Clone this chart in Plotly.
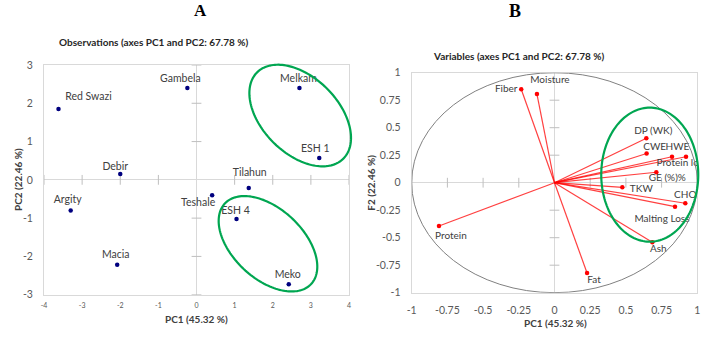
import numpy as np
import plotly.graph_objects as go

# ---------------- data ----------------
obs_names = ["Red Swazi", "Gambela", "Melkam", "ESH 1", "Debir", "Tilahun",
             "Teshale", "ESH 4", "Argity", "Macia", "Meko"]
obs_pc1 = [-3.62, -0.24, 2.70, 3.22, -2.00, 1.37, 0.41, 1.05, -3.30, -2.08, 2.42]
obs_pc2 = [1.85, 2.40, 2.40, 0.57, 0.15, -0.21, -0.40, -1.02, -0.80, -2.22, -2.73]

var_names = ["Fiber", "Moisture", "DP (WK)", "CWE", "HWE", "Protein loss",
             "GE (%)%", "TKW", "CHO", "Malting Loss", "Ash", "Fat", "Protein"]
var_pc1 = [-0.233, -0.123, 0.643, 0.645, 0.823, 0.921, 0.713, 0.475, 0.916, 0.844, 0.685, 0.228, -0.809]
var_pc2 = [0.849, 0.806, 0.404, 0.265, 0.236, 0.236, 0.095, -0.042, -0.187, -0.218, -0.542, -0.821, -0.394]

obs_ticks_x = [-4, -3, -2, -1, 0, 1, 2, 3, 4]
obs_ticks_y = [-3, -2, -1, 0, 1, 2, 3]
var_ticks = [-1, -0.75, -0.5, -0.25, 0, 0.25, 0.5, 0.75, 1]
var_tick_text = ["-1", "-0.75", "-0.5", "-0.25", "0", "0.25", "0.5", "0.75", "1"]

# ---------------- styles / layout geometry ----------------
W, H = 703, 344
L_box = (44, 349, 65, 294.7)      # left, right, top, bottom (px)
R_box = (411.7, 697.3, 72.7, 292.7)
L_rng = ((-4, 4), (-3, 3))
R_rng = ((-1, 1), (-1, 1))
L_sx = (L_box[1] - L_box[0]) / 8.0
L_sy = (L_box[3] - L_box[2]) / 6.0
R_sx = (R_box[1] - R_box[0]) / 2.0
R_sy = (R_box[3] - R_box[2]) / 2.0

# label offsets in px (dx right, dy down)
obs_off = {"Red Swazi": (30, -12), "Gambela": (-7, -9), "Melkam": (-1, -9), "ESH 1": (-4, -9),
           "Debir": (-5, -7), "Tilahun": (1, -15), "Teshale": (-14, 8), "ESH 4": (-1, -8),
           "Argity": (-3, -10), "Macia": (-1.5, -9), "Meko": (-1, -9)}
var_off = {"Fiber": (-15, 0), "Moisture": (13, -14), "DP (WK)": (7, -7), "CWE": (8, -6),
           "HWE": (5.5, -9), "Protein loss": (-4, 7), "GE (%)%": (11, 6), "TKW": (19, 2),
           "CHO": (0, -7.6), "Malting Loss": (-13, 13), "Ash": (6, 7.5), "Fat": (7, 8),
           "Protein": (12, 10)}

FONT = "Lato"
GREEN = "#00a651"
AX_GREY = "#d9d9d9"
TICK_GREY = "#595959"


def dom_x(box):
    return [box[0] / W, box[1] / W]


def dom_y(box):
    return [1 - box[3] / H, 1 - box[2] / H]


def ellipse_path(cx, cy, a_px, b_px, ang_deg, box, rng, sx, sy, n=160):
    """Rotated ellipse (sizes in px) centred at data point (cx, cy); returned in paper coords."""
    t = np.linspace(0, 2 * np.pi, n)
    th = np.radians(ang_deg)
    ux = a_px * np.cos(t) * np.cos(th) - b_px * np.sin(t) * np.sin(th)
    uy = a_px * np.cos(t) * np.sin(th) + b_px * np.sin(t) * np.cos(th)
    px = box[0] + (cx - rng[0][0]) * sx + ux
    py = box[3] - (cy - rng[1][0]) * sy - uy
    pts = [f"{x / W:.5f},{1 - y / H:.5f}" for x, y in zip(px, py)]
    return "M " + " L ".join(pts) + " Z"


fig = go.Figure()

# ---- left: observations ----
fig.add_trace(go.Scatter(x=[v for v in obs_ticks_x if v != 0], y=[0] * 8, mode="markers",
                         marker=dict(symbol="line-ns", size=7, line=dict(color="#bfbfbf", width=1)),
                         hoverinfo="skip", showlegend=False, xaxis="x", yaxis="y"))
fig.add_trace(go.Scatter(x=[0] * 6, y=[v for v in obs_ticks_y if v != 0], mode="markers",
                         marker=dict(symbol="line-ew", size=7, line=dict(color="#bfbfbf", width=1)),
                         hoverinfo="skip", showlegend=False, xaxis="x", yaxis="y"))
fig.add_trace(go.Scatter(x=obs_pc1, y=obs_pc2, mode="markers",
                         marker=dict(color="#00007f", size=4.5),
                         showlegend=False, xaxis="x", yaxis="y"))
fig.add_trace(go.Scatter(
    x=[x + obs_off[n][0] / L_sx for n, x in zip(obs_names, obs_pc1)],
    y=[y - obs_off[n][1] / L_sy for n, y in zip(obs_names, obs_pc2)],
    text=obs_names, mode="text", textposition="middle center",
    textfont=dict(family=FONT, size=10.5, color="#404040"),
    hoverinfo="skip", showlegend=False, xaxis="x", yaxis="y"))

# ---- right: variables ----
fig.add_trace(go.Scatter(x=[v for v in var_ticks if v != 0], y=[0] * 8, mode="markers",
                         marker=dict(symbol="line-ns", size=7, line=dict(color="#bfbfbf", width=1)),
                         hoverinfo="skip", showlegend=False, xaxis="x2", yaxis="y2"))
fig.add_trace(go.Scatter(x=[0] * 8, y=[v for v in var_ticks if v != 0], mode="markers",
                         marker=dict(symbol="line-ew", size=7, line=dict(color="#bfbfbf", width=1)),
                         hoverinfo="skip", showlegend=False, xaxis="x2", yaxis="y2"))
lx, ly = [], []
for x, y in zip(var_pc1, var_pc2):
    lx += [0, x, None]
    ly += [0, y, None]
fig.add_trace(go.Scatter(x=lx, y=ly, mode="lines",
                         line=dict(color="rgba(255,0,0,0.75)", width=1.2),
                         hoverinfo="skip", showlegend=False, xaxis="x2", yaxis="y2"))
fig.add_trace(go.Scatter(x=var_pc1, y=var_pc2, mode="markers",
                         marker=dict(color="#ff0000", size=4.5),
                         showlegend=False, xaxis="x2", yaxis="y2"))
fig.add_trace(go.Scatter(
    x=[x + var_off[n][0] / R_sx for n, x in zip(var_names, var_pc1)],
    y=[y - var_off[n][1] / R_sy for n, y in zip(var_names, var_pc2)],
    text=var_names, mode="text", textposition="middle center",
    textfont=dict(family=FONT, size=10, color="#404040"),
    hoverinfo="skip", showlegend=False, xaxis="x2", yaxis="y2"))

shapes = [
    dict(type="circle", xref="x2", yref="y2", x0=-1, x1=1, y0=-1, y1=1,
         line=dict(color="#808080", width=1)),
    dict(type="path", xref="paper", yref="paper",
         path=ellipse_path(2.72, 1.68, 61, 38, -45, L_box, L_rng, L_sx, L_sy),
         line=dict(color=GREEN, width=2.2)),
    dict(type="path", xref="paper", yref="paper",
         path=ellipse_path(1.875, -1.67, 59, 35, -43, L_box, L_rng, L_sx, L_sy),
         line=dict(color=GREEN, width=2.2)),
    dict(type="path", xref="paper", yref="paper",
         path=ellipse_path(0.667, 0.073, 67, 48.5, 90, R_box, R_rng, R_sx, R_sy),
         line=dict(color=GREEN, width=2.2)),
]

axis_common = dict(showgrid=False, zeroline=True, zerolinecolor=AX_GREY, zerolinewidth=1,
                   showline=True, mirror=True, linecolor=AX_GREY, linewidth=1,
                   ticks="", fixedrange=True)

ann = []


def add_text(text, px, py, size, bold=False, color="#262626", family=FONT, angle=0):
    ann.append(dict(text=f"<b>{text}</b>" if bold else text, x=px / W, y=1 - py / H,
                    xref="paper", yref="paper", xanchor="center", yanchor="middle",
                    showarrow=False, textangle=angle,
                    font=dict(family=family, size=size, color=color)))


add_text("A", 200.5, 10, 17, bold=True, color="#000000", family="Liberation Serif")
add_text("B", 514.5, 11, 18, bold=True, color="#000000", family="Liberation Serif")
add_text("Observations (axes PC1 and PC2: 67.78 %)", 153.5, 41.5, 10, bold=True)
add_text("Variables (axes PC1 and PC2: 67.78 %)", 518.5, 56, 10, bold=True)
add_text("PC1 (45.32 %)", 196.7, 318.5, 10, bold=True, color="#404040")
add_text("PC2 (22.46 %)", 18, 180, 10, bold=True, color="#404040", angle=-90)
add_text("PC1 (45.32 %)", 555, 322.5, 10, bold=True, color="#404040")
add_text("F2 (22.46 %)", 371, 182.7, 10, bold=True, color="#404040", angle=-90)

fig.update_layout(
    width=W, height=H, margin=dict(l=0, r=0, t=0, b=0, autoexpand=False),
    paper_bgcolor="white", plot_bgcolor="white", showlegend=False,
    xaxis=dict(domain=dom_x(L_box), range=list(L_rng[0]), tickvals=obs_ticks_x,
               ticktext=[str(v) for v in obs_ticks_x], anchor="y",
               tickfont=dict(family=FONT, size=7, color=TICK_GREY), ticklabelstandoff=4,
               **axis_common),
    yaxis=dict(domain=dom_y(L_box), range=list(L_rng[1]), tickvals=obs_ticks_y,
               ticktext=[str(v) for v in obs_ticks_y], anchor="x",
               tickfont=dict(family=FONT, size=10.5, color=TICK_GREY), ticklabelstandoff=8,
               **axis_common),
    xaxis2=dict(domain=dom_x(R_box), range=list(R_rng[0]), tickvals=var_ticks, ticktext=var_tick_text,
                anchor="y2", tickfont=dict(family=FONT, size=10.5, color=TICK_GREY),
                ticklabelstandoff=8, **axis_common),
    yaxis2=dict(domain=dom_y(R_box), range=list(R_rng[1]), tickvals=var_ticks, ticktext=var_tick_text,
                anchor="x2", tickfont=dict(family=FONT, size=10.5, color=TICK_GREY),
                ticklabelstandoff=8, **axis_common),
    shapes=shapes, annotations=ann,
)

fig.write_html("out.html", config={"displayModeBar": False},
               post_script="document.body.style.margin='0';document.body.style.overflow='hidden';")
